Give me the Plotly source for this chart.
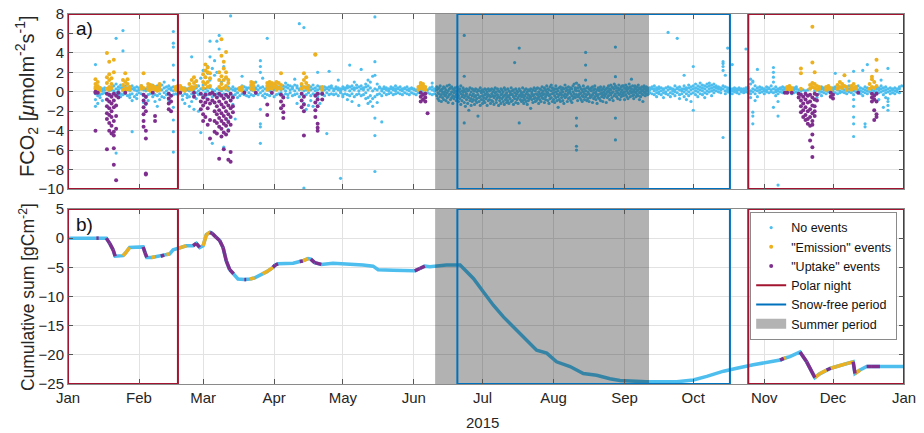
import numpy as np
import pandas as pd
import plotly.graph_objects as go

# ---------------- data (day of year 2015, value) ----------------
# Panel a: CO2 flux, grouped by day: (day, [values])  -- "no events"
no_event = [
 (12,[0.3,-0.2,-0.8,-1.5,2.8]),(13,[0.1,-0.4,0.5,-1.2]),(14,[0.2,-0.3,-0.6,0.4]),(15,[0.1,-0.2,0.3,-0.9]),
 (16,[0.2,-0.1,0.4]),(17,[-0.2,0.3]),(18,[0.1,-0.4]),(19,[0.2,-0.3,0.5]),(20,[0.1,-0.2,0.6]),
 (21,[0.3,-0.1,5.5,-6.3,0.8]),(22,[0.2,-0.3,0.5]),(23,[0.4,-0.2,0.7,-0.5]),(24,[0.1,0.5,-0.3,6.3,4.2]),
 (25,[0.3,-0.2,0.6]),(26,[0.2,-0.4,0.4]),(27,[0.1,-0.3,0.5,-0.6]),(28,[0.3,-0.2,0.6,-4.1,-0.9]),
 (29,[0.2,-0.5,0.4]),(30,[0.1,-0.3,0.5,-0.7]),(31,[0.4,-0.1,0.2]),(32,[0.3,-0.2,0.6]),(33,[0.2,-0.4,-1.1]),
 (34,[0.1,-0.6,-1.3,0.3]),(35,[0.2,-0.3,-0.9,0.5]),(36,[0.3,-0.2,0.1]),(37,[0.4,-0.1,-0.5,0.7]),
 (38,[0.2,-0.3,0.5,-1.0]),(39,[0.1,-0.4,0.6,-1.5]),(40,[0.3,-0.2,-0.8,0.4]),(41,[0.2,-0.5,0.7]),
 (42,[0.4,-0.1,-0.6,1.0]),(43,[0.1,-0.3,0.5]),(44,[0.3,-0.2,0.6,-0.9]),(45,[0.2,-0.4,0.4]),
 (46,[0.5,0.1,-0.3,6.2,5.0,4.6,2.75,-2.9,-4.1,-6.2,1.2,-1.6]),(47,[0.2,-0.2,0.4]),(48,[0.1,-0.3,0.3]),
 (49,[0.3,-0.1,0.5]),(50,[0.2,-0.4,-0.8]),(51,[0.1,-0.2,0.4,-1.2]),(52,[0.3,-0.3,0.2,-0.6]),
 (53,[0.1,-0.5,0.4,-1.5]),(54,[0.3,-0.2,3.6,-1.0]),(55,[0.2,-0.4,0.5,-1.8]),(56,[0.4,-0.1,-0.7,1.1]),
 (57,[0.1,-0.3,0.6,-2.0]),(58,[0.3,-0.2,1.4,-4.2]),(59,[0.2,-0.4,0.7,2.2]),(60,[0.3,-0.1,1.5,-0.6]),
 (61,[0.1,-0.3,1.9,2.6]),(62,[0.4,-0.2,3.6,1.2,5.2]),(63,[0.2,-0.5,2.4,-5.3]),(64,[0.1,-0.3,1.7,3.2]),
 (65,[0.3,-0.2,5.2,2.0]),(66,[0.2,-0.4,5.8,4.4]),(67,[0.1,-0.3,1.0,-1.3]),(68,[0.3,-0.2,2.6,-5.7]),
 (69,[0.2,-0.4,1.4]),(70,[0.1,-0.6,0.5,-3.0,-3.9]),(71,[0.3,-0.2,-0.9,7.8]),(72,[0.2,-0.4,0.5,-1.3]),
 (73,[0.1,-0.3,0.3,-2.8]),(74,[0.3,-0.1,-0.6]),(75,[0.2,-0.4,0.4]),(76,[0.3,-0.2,0.6,1.6]),
 (77,[0.1,-0.3,0.5]),(78,[0.2,-0.4,0.4]),(79,[0.4,-0.1,-0.5]),(80,[0.2,-0.3,0.6]),(81,[0.1,-0.4,0.5]),
 (82,[0.3,-0.2,0.4,1.0]),(83,[0.2,-0.3,0.6]),(84,[0.4,-0.1,3.2,2.6,2.0,-1.8,-3.3,-3.6,-5.3]),
 (85,[0.1,-0.4,0.5,1.4]),(86,[0.3,-0.2,-0.6]),(87,[0.2,-0.3,0.4,5.5]),(88,[0.1,-0.4,0.5]),
 (89,[0.3,-0.2,0.6]),(90,[0.2,-0.5,0.4]),(91,[0.4,-0.3,0.6]),(92,[0.3,-0.2,0.5]),(93,[0.2,-0.1,0.4]),
 (94,[0.3,-0.4,0.6]),(95,[0.1,-0.2,0.5,0.9]),(96,[0.4,-0.3,0.7,-0.6]),(97,[0.2,-0.1,0.6]),
 (98,[0.3,-0.4,0.5]),(99,[0.1,-0.3,0.7,1.3]),(100,[0.4,-0.2,0.6,-1.2]),(101,[0.2,-0.5,0.3,7.0]),
 (102,[0.3,-0.2,0.6]),(103,[0.1,-0.4,6.6,-9.9,-1.2]),(104,[0.2,-0.3,0.5,-1.8]),(105,[0.4,-0.1,0.6,-1.4]),
 (106,[0.2,-0.4,0.5,-0.9]),(107,[0.3,-0.2,0.7,-1.5]),(108,[0.1,-0.3,0.4]),(109,[0.2,-0.5,0.6,2.0]),
 (110,[0.3,-0.2,0.5,-1.2]),(111,[0.1,-0.3,0.4]),(112,[0.2,-0.4,0.5]),(113,[0.3,-0.1,0.4,-4.3]),
 (114,[0.2,-0.3,0.5,2.1]),(115,[0.4,-0.2,0.6]),(116,[0.1,-0.3,0.3]),(117,[0.3,-0.2,0.5]),
 (118,[0.2,-0.4,0.4,1.2]),(119,[0.1,-0.1,0.3,-8.9]),(120,[0.3,-0.3,0.5,-0.5]),(121,[0.2,-0.2,0.4]),
 (122,[0.4,-0.3,0.6,-0.8]),(123,[0.1,-0.4,0.5,2.75]),(124,[0.3,-0.2,0.6,-1.0]),(125,[0.2,-0.5,0.4,1.0]),
 (126,[0.4,-0.3,0.7]),(127,[0.1,-0.2,0.5,-1.4]),(128,[0.3,-0.4,0.6,2.3]),(129,[0.2,-0.3,0.4]),
 (130,[0.5,-0.1,0.8,-0.7]),(131,[0.2,-0.6,0.6,1.2,-1.2]),(132,[0.4,-0.4,1.0,-1.0]),(133,[0.1,-0.7,1.6,-1.5]),
 (134,[0.3,-0.5,3.1,1.7,7.7,-2.7,-4.5,-8.2]),(135,[0.2,-0.3,0.8,-1.1]),(136,[0.4,-0.2,0.5]),
 (137,[0.1,-0.4,0.3,-3.1]),(138,[0.3,-0.1,0.5]),(139,[0.2,-0.3,0.4]),(140,[0.1,-0.2,0.3]),
 (141,[0.3,-0.1,0.5]),(142,[0.2,-0.3,0.4]),(143,[0.1,-0.2,0.3,0.6]),(144,[0.3,-0.1,0.4]),
 (145,[0.2,-0.2,0.5]),(146,[0.1,-0.3,0.3]),(147,[0.3,-0.1,0.4]),(148,[0.2,-0.2,0.5]),(149,[0.1,-0.3,0.3]),
 (150,[0.3,-0.1,0.4]),(151,[0.2,-0.2,0.3]),(152,[0.1,-0.3,0.2]),(153,[0.2,-0.1]),(154,[0.2,-0.1]),
 (155,[0.2,-0.1]),(156,[0.2,-0.1]),(157,[0.2,-0.1]),(158,[0.3,-0.2,0.4]),(159,[0.2,-0.3,0.5,0.9]),
 (160,[0.1,-0.2,0.3]),
 (161.0,[0.2,-0.4,0.5]),(161.5,[-0.1,-0.7,0.3]),(162.0,[0.4,-0.2,-0.9]),(162.5,[0.1,-0.5,0.6]),
 (163.0,[-0.3,0.2,-1.0]),(163.5,[0.3,-0.6,0.0]),(164.0,[0.5,-0.2,-0.8]),(164.5,[0.0,-0.4,0.4]),
 (165.0,[0.2,-0.9,-0.3]),(165.5,[0.6,-0.1,-0.6]),(166.0,[0.1,-0.5,-1.1]),(166.5,[0.3,-0.3,0.7]),
 (167.0,[-0.2,0.4,-0.8]),(167.5,[0.0,-0.6,0.5]),(168.0,[0.3,-0.4,-1.2]),(168.5,[-0.1,0.2,-0.7]),
 (169.0,[0.4,-0.5,0.0]),(169.5,[0.1,-0.9,-0.3]),(170.0,[0.5,-0.2,-0.6]),(170.5,[-0.4,0.2,-1.0]),
 (171.0,[0.3,-0.7,0.0]),(171.5,[-0.2,0.6,-1.3]),(172.0,[0.1,-0.5,-0.9]),(172.5,[0.4,-0.3,0.0]),
 (173.0,[-0.6,0.2,-1.1,5.8,1.6,-3.2]),(173.5,[0.0,-0.4,-1.5]),(174.0,[0.3,-0.8,-0.2]),(174.5,[-0.5,0.1,-1.2]),
 (175.0,[0.2,-0.6,-1.9]),(175.5,[-0.3,0.4,-0.9]),(176.0,[0.0,-0.7,-1.4]),(176.5,[0.3,-0.4,-1.0]),
 (177.0,[-0.2,-0.8,0.2]),(177.5,[0.1,-0.5,-1.3]),(178.0,[-0.4,0.3,-0.9]),(178.5,[0.0,-0.7,-1.1]),
 (179.0,[-0.3,0.2,-2.5]),(179.5,[0.1,-0.6,-1.0]),(180.0,[-0.5,0.4,-1.4]),(180.5,[-0.1,-0.8,0.1]),
 (181.0,[0.2,-0.4,-1.2]),(181.5,[-0.6,0.0,-0.9]),(182.0,[0.3,-0.3,-1.1]),(182.5,[-0.2,-0.7,0.2]),
 (183.0,[0.0,-0.5,-1.4]),(183.5,[-0.3,0.3,-0.9]),(184.0,[0.1,-0.8,-0.4]),(184.5,[-0.5,0.2,-1.2]),
 (185.0,[0.3,-0.2,-0.9]),(185.5,[-0.4,-1.0,0.0]),(186.0,[0.2,-0.6,-1.3]),(186.5,[-0.1,-0.4,0.4]),
 (187.0,[0.0,-0.8,-1.1]),(187.5,[-0.3,0.3,-0.6]),(188.0,[0.1,-0.5,-1.4]),(188.5,[-0.6,0.0,-0.9]),
 (189.0,[0.3,-0.3,-1.2]),(189.5,[-0.2,-0.7,0.2]),(190.0,[0.0,-0.5,-1.0]),(190.5,[-0.4,0.4,-1.3]),
 (191.0,[0.2,-0.8,-0.3]),(191.5,[-0.1,-0.6,-1.1]),(192.0,[0.3,-0.4,-0.9]),(192.5,[-0.5,0.1,-1.2]),
 (193.0,[0.0,-0.7,-0.3]),(193.5,[0.4,-0.2,-1.0]),(194.0,[-0.3,-0.9,0.1]),(194.5,[0.2,-0.5,-1.3]),
 (195.0,[-0.1,-0.7,3.0]),(195.5,[0.3,-0.4,-1.1]),(196.0,[-0.2,0.1,-0.8]),(196.5,[0.0,-0.6,-1.2]),
 (197.0,[-0.4,0.3,4.5,-3.2]),(197.5,[0.1,-0.8,-0.3]),(198.0,[-0.1,-0.5,-1.0]),(198.5,[0.4,-0.3,-0.9]),
 (199.0,[-0.6,0.0,-1.2]),(199.5,[0.2,-0.4,-0.8]),(200.0,[-0.2,-1.0,0.3]),(200.5,[0.0,-0.6,-1.3]),
 (201.0,[-0.3,0.2,-0.9]),(201.5,[0.1,-0.7,-0.4]),(202.0,[-0.5,0.3,-1.7]),(202.5,[0.0,-0.8,-0.2]),
 (203.0,[0.2,-0.4,-1.1]),(203.5,[-0.3,0.4,-0.7]),(204.0,[0.1,-0.6,-1.0]),(204.5,[-0.2,-0.9,0.3]),
 (205.0,[0.4,-0.3,-0.7]),(205.5,[0.0,-0.5,-1.2]),(206.0,[0.3,-0.2,-0.8]),(206.5,[-0.4,0.2,-1.0]),
 (207.0,[0.5,-0.1,-0.6]),(207.5,[0.1,-0.7,-0.3]),(208.0,[-0.2,0.4,-1.1]),(208.5,[0.2,-0.5,-0.8]),
 (209.0,[0.6,-0.3,0.0]),(209.5,[-0.1,-0.9,0.3]),(210.0,[0.2,-0.4,-1.2]),(210.5,[-0.3,0.5,-0.7]),
 (211.0,[0.1,-0.6,0.7]),(211.5,[0.4,-0.2,-1.0]),(212.0,[-0.1,-0.8,0.2]),(212.5,[0.3,-0.4,-1.1]),
 (213.0,[0.6,0.0,-0.6]),(213.5,[-0.2,0.3,-0.9]),(214.0,[0.1,-0.5,-1.6]),(214.5,[0.4,-0.3,-0.8]),
 (215.0,[-0.1,0.5,-1.0]),(215.5,[0.2,-0.6,-0.3]),(216.0,[0.0,-0.9,0.4]),(216.5,[0.3,-0.4,-1.2]),
 (217.0,[0.7,-0.2,-0.6]),(217.5,[0.1,-0.5,0.4]),(218.0,[-0.3,0.2,-1.0]),(218.5,[0.5,-0.1,-0.7]),
 (219.0,[0.2,-0.6,0.0]),(219.5,[-0.2,0.4,-0.9]),(220.0,[0.3,-0.4,-1.1]),(220.5,[0.0,-0.7,0.6]),
 (221.0,[0.8,-0.2,-0.5]),(221.5,[0.2,-0.6,0.4]),(222.0,[-0.3,0.1,-2.7,-3.5,-5.6,-6.0,0.9]),(222.5,[0.4,-0.5,-0.9]),
 (223.0,[0.1,-0.3,0.7]),(223.5,[0.5,-0.2,-0.6]),(224.0,[-0.1,-0.8,0.3]),(224.5,[0.2,-0.4,-1.0]),
 (225.0,[0.6,0.0,-0.5]),(225.5,[-0.2,0.3,-0.8]),(226.0,[0.1,-0.5,4.05,2.75,1.2]),(226.5,[0.4,-0.3,-0.9]),
 (227.0,[0.0,-0.7,0.5]),(227.5,[0.3,-0.2,-1.0]),(228.0,[-0.4,0.2,-0.6]),(228.5,[0.1,-0.5,0.4]),
 (229.0,[0.5,-0.3,-1.1]),(229.5,[-0.1,0.2,-0.7]),(230.0,[0.3,-0.5,0.6]),(230.5,[0.0,-0.8,-0.2]),
 (231.0,[0.2,-0.4,-1.2]),(231.5,[-0.3,0.4,-0.6]),(232.0,[0.1,-0.7,0.3]),(232.5,[0.5,-0.2,-0.9]),
 (233.0,[-0.1,-0.5,0.2]),(233.5,[0.3,-0.3,-1.0]),(234.0,[0.0,0.5,-0.6]),(234.5,[0.2,-0.4,-0.2]),
 (235.0,[-0.2,0.3,-1.1]),(235.5,[0.4,-0.6,0.0]),(236.0,[0.6,0.1,-0.4]),(236.5,[-0.1,0.3,-0.8]),
 (237.0,[0.2,-0.3,0.7]),(237.5,[0.5,-0.1,-0.6]),(238.0,[0.0,0.4,-0.9]),(238.5,[0.3,-0.4,0.8]),
 (239.0,[0.6,-0.2,4.6,1.55,-2.7,-4.95]),(239.5,[0.1,-0.5,0.4]),(240.0,[0.4,-0.1,-0.7]),(240.5,[0.7,0.2,-0.3]),
 (241.0,[-0.2,0.3,-0.8]),(241.5,[0.5,0.0,-0.5]),(242.0,[0.2,-0.3,0.6]),(242.5,[0.6,-0.1,-0.4]),
 (243.0,[0.0,0.4,-0.8]),(243.5,[0.3,-0.3,0.7]),(244.0,[0.5,0.1,-0.5]),(244.5,[-0.1,0.3,-0.7]),
 (245.0,[0.4,-0.2,0.8]),(245.5,[0.1,-0.5,0.5]),(246.0,[0.3,-0.1,1.3]),(246.5,[0.6,0.0,-0.4]),
 (247.0,[0.2,-0.3,-0.7]),(247.5,[0.4,0.0,0.6]),(248.0,[-0.1,0.3,-0.5]),(248.5,[0.5,0.1,-0.3]),
 (249.0,[0.2,-0.4,0.7]),(249.5,[0.4,-0.1,-0.8]),(250.0,[0.0,0.3,-0.5]),(250.5,[0.5,0.1,-0.2]),
 (251.0,[0.2,-0.3,-1.0]),(251.5,[0.4,0.0,0.6]),(252.0,[-0.1,0.3,-0.4]),(252.5,[0.5,0.1,-0.2]),
 (253.0,[0.2,-0.3,0.4]),(253.5,[0.0,0.3,-0.2]),
 (254,[0.2,-0.1,0.4]),(255,[0.3,-0.2,0.5]),(256,[0.1,-0.3,0.3,0.6]),(257,[0.2,-0.1,0.4,-0.5]),
 (258,[0.3,0.0,-0.2,0.5]),(259,[0.1,-0.3,0.4]),(260,[0.2,-0.1,0.3,-0.6]),(261,[0.4,0.0,-0.2]),
 (262,[0.2,-0.3,0.5,6.1]),(263,[0.3,-0.1,0.4,-0.5]),(264,[0.1,-0.2,0.3]),(265,[0.2,0.0,-0.4,0.6]),
 (266,[0.3,-0.1,0.4,5.5]),(267,[0.2,-0.3,0.5,-0.7]),(268,[0.1,-0.2,0.3]),(269,[0.3,0.0,0.6,1.7,-0.5]),
 (270,[0.2,-0.2,0.4,-0.8]),(271,[0.4,0.0,0.7,-0.4]),(272,[0.2,-0.2,0.5,-1.0]),(273,[0.3,-0.1,0.6,2.6,-1.9]),
 (274,[0.1,-0.3,0.4,0.8]),(275,[0.3,0.0,0.6,-0.5]),(276,[0.2,-0.2,0.5,0.9]),(277,[0.4,0.1,0.7,-0.3]),
 (278,[0.3,-0.1,0.6,-0.6]),(279,[0.5,0.1,0.8,-0.2]),(280,[0.3,0.0,0.6,0.9]),(281,[0.4,0.1,0.7,-0.4]),
 (282,[0.2,-0.1,0.5,0.8]),(283,[0.4,0.1,0.6]),(284,[0.3,0.0,0.5]),(285,[0.2,-0.1,0.4]),
 (286,[0.3,2.2,2.6,3.1,2.9,-4.7,0.6]),(287,[0.1,-0.2,0.5,1.7]),(288,[0.2,0.0,0.4,4.5]),(289,[0.3,-0.1,0.2]),
 (290,[0.1,-0.2,0.3,2.8]),(291,[0.2,0.0,0.4]),(292,[0.1,-0.1,0.3]),(293,[0.2,-0.2,0.4]),(294,[0.3,0.0,0.2]),
 (295,[0.1,-0.1,0.3]),(296,[0.2,0.0,4.4,0.4]),(297,[0.3,-0.1,0.5]),(298,[0.1,-0.2,0.8,1.3,-0.6]),
 (299,[0.3,0.0,1.0,-2.1,-2.5,-3.3,1.1]),(300,[0.2,-0.2,0.6,-0.9]),(301,[0.4,0.1,2.3,-0.5]),
 (302,[0.2,-0.1,0.5]),(303,[0.3,0.0,0.4]),(304,[0.1,-0.2,0.3]),(305,[0.2,0.0,0.5]),(306,[0.3,-0.1,0.4]),
 (307,[0.2,0.0,0.6]),(308,[0.3,-0.1,2.5,1.5,2.0,1.0,-1.6]),(309,[0.2,0.0,0.5,-0.4]),
 (310,[0.1,-0.2,0.3,-2.5,-9.6,-1.0]),(311,[0.3,0.0,0.4]),(312,[0.2,-0.1,0.5]),(313,[0.3,0.0,0.4]),
 (314,[0.2,-0.1]),(315,[0.3,0.0]),(316,[0.1,-0.2]),(317,[0.2,-0.1,0.4]),(318,[0.3,0.0,0.5]),
 (319,[0.2,-0.1]),(320,[0.1,-0.2]),(321,[0.2]),(322,[0.1,-0.3]),(323,[0.2]),(324,[0.3]),(326,[0.1]),
 (327,[0.2,-0.3,-0.6]),(328,[0.1,-0.2]),(329,[0.3,0.0,0.5,-0.4]),(330,[0.2,-0.1,0.4]),(331,[0.1,-0.2,0.3]),
 (332,[0.2,0.0]),(333,[0.3,-0.1]),(334,[0.2,0.0,0.4]),(335,[0.3,-0.1,0.5,1.9]),(336,[0.2,-0.2,0.4]),
 (337,[0.1,-0.1]),(338,[0.3,0.0,0.5]),(339,[0.2,-0.1,1.7]),(340,[0.1,-0.2,0.3]),(341,[0.3,0.0,0.6,1.1]),
 (342,[0.2,-0.1,0.4]),(343,[0.1,-0.3,2.1,-0.8,-1.5,-2.6,-3.3,-4.6]),(344,[0.3,0.0,0.5]),
 (345,[0.2,-0.1,0.6]),(346,[0.1,-0.2,0.4]),(347,[0.3,0.0,2.2,-0.4]),(348,[0.2,-0.1,0.5,-3.6,-3.3]),
 (349,[0.1,-0.2,2.8,0.4]),(350,[0.3,0.0]),(351,[0.2,-0.1]),(352,[0.1,-0.2]),(353,[0.3,0.0,0.5]),
 (354,[0.2,-0.1,0.4,-0.8]),(355,[0.3,0.0,0.6,1.2]),(356,[0.1,-0.3,0.4,-1.6]),(357,[0.2,-0.1,0.5,-0.6]),
 (358,[0.3,0.0,2.4,-0.7,-1.0,-1.4,-1.9]),(359,[0.1,-0.2,0.4]),(360,[0.2,-0.1,0.3]),(361,[0.1,-0.2,0.4]),
 (362,[0.2,0.0,0.3]),(363,[0.3,-0.1,0.5]),(364,[0.6]),
]

emission = [
 (12,[0.3,0.8,1.3,0.5]),(13,[0.2,0.6,1.0]),(14,[0.1,0.4]),(17,[0.3,0.9,1.5,4.0]),
 (18,[0.5,1.2,1.8,3.1,0.2]),(19,[0.4,0.8,1.4]),(20,[3.3,2.0]),(24,[0.2,0.7,1.2]),(25,[0.4,1.0,1.9,0.1]),
 (26,[0.3,0.8,1.3]),(27,[0.2,0.5]),(32,[0.3,0.6]),(33,[1.9,0.4]),(35,[0.2,0.5,0.8]),(36,[0.1,0.4,0.7]),
 (37,[0.3,0.6]),(38,[0.2,0.5,0.3]),(39,[0.1,0.4]),(40,[0.2,0.6,0.8]),(47,[0.2,0.5]),(48,[0.1,0.4,0.6]),
 (49,[0.3,0.6]),(50,[0.2,0.4]),(51,[0.1,0.3]),(53,[0.3,0.8]),(54,[0.5,1.2,0.2]),(55,[0.4,0.9,1.5]),
 (56,[0.6,1.1]),(59,[0.4,1.0,1.8]),(60,[0.8,1.5,2.2,2.8]),(61,[1.0,2.0,2.5,0.5]),(62,[0.6,1.4,1.9]),
 (66,[0.5,1.2,2.0]),(67,[0.8,1.6,3.7,5.4,0.3]),(68,[0.4,1.2,2.4,3.1]),(69,[0.6,1.5,4.1,2.0]),
 (70,[0.3,0.9,1.2]),(75,[0.2,0.4]),(76,[0.1,0.5]),(80,[0.3,0.7,1.0]),(81,[0.2,0.6,0.9]),
 (87,[0.2,0.6,0.9]),(88,[0.4,0.8,1.0]),(89,[0.3,0.7,0.9]),(90,[0.5,0.8]),(91,[0.2,0.6,1.0]),
 (92,[0.4,0.9]),(93,[0.3,1.9,0.7]),(102,[0.3,0.8]),(103,[0.5,1.2,1.9]),(104,[0.4,0.9,1.5]),
 (105,[0.2,0.6]),(108,[3.85,3.8]),(111,[0.2,0.5]),(153,[0.2,0.5]),(154,[0.4,0.9,0.7]),(155,[0.3,0.6,0.8]),
 (156,[0.2,0.5]),(314,[0.2,0.5]),(315,[0.3,0.6]),(316,[0.1,0.4]),(320,[2.4,1.9,0.3]),(324,[0.3,0.7]),
 (325,[0.5,0.9,3.0,6.7]),(326,[0.4,0.8,2.0]),(327,[0.2,0.6]),(328,[0.3,0.5]),(331,[0.2,0.5]),
 (332,[0.3,0.6]),(333,[0.1,0.4]),(336,[0.3,0.7]),(337,[0.5,1.0]),(338,[0.4,0.8]),(339,[0.6,1.7]),
 (340,[0.2,0.5]),(342,[0.2,0.6]),(343,[0.4,0.8]),(344,[0.3,0.5]),(350,[0.3,0.8]),(351,[0.5,1.3,1.55]),
 (352,[0.4,1.0]),(353,[0.6,2.2,3.3]),
]

uptake = [
 (12,[0.0,-0.1,-4.0]),(13,[-0.1]),(17,[-0.2,-0.8,-1.5,-2.2,-2.8,-5.9]),(18,[-0.3,-1.0,-1.7,-2.4,-3.2,-4.0]),
 (19,[-0.5,-1.2,-2.0,-2.6,-3.5,-4.3]),(20,[-0.2,-0.9,-1.6,-3.0,-4.1,-4.5,-7.5,-5.8]),
 (21,[-0.4,-1.4,-2.5,-3.8,-9.1]),(22,[-0.1,-0.6]),(25,[-0.1]),(33,[-0.3,-0.9,-1.6,-2.3,-3.0,-3.6]),
 (34,[-0.5,-1.2,-2.0,-4.0,-4.8,-8.4,-8.5]),(37,[-0.1]),(38,[-2.5,-3.0]),(44,[-0.2,-0.7,-1.2,-1.8]),
 (45,[-0.4,-1.0,-2.0]),(49,[-0.1]),(55,[-0.1,-0.5]),(58,[-0.2,-1.0,-1.8]),(59,[-0.6,-1.4,-2.3,-3.0]),
 (60,[-0.3,-1.1,-2.6]),(61,[-0.8,-1.7,-3.4]),(62,[-0.2,-1.2,-2.9,-4.8]),(63,[-0.1,-0.9]),
 (64,[-0.3,-1.1,-2.0,-3.0,-4.1]),(65,[-0.6,-1.5,-2.3,-3.2,-4.3]),(66,[-0.2,-1.0,-1.9,-2.7,-3.6,-6.9]),
 (67,[-0.4,-1.3,-2.2,-3.0,-3.8,-4.6]),(68,[-0.7,-1.6,-2.5,-3.3,-4.2,-5.9]),(69,[-0.3,-1.1,-2.0,-2.8,-3.5,-4.4]),
 (70,[-0.5,-1.4,-2.3,-3.1,-4.0,-7.0]),(71,[-0.2,-0.9,-1.7,-2.6,-3.4,-6.2,-7.2]),(72,[-0.6,-1.5,-2.1]),
 (77,[-0.1]),(82,[-0.1]),(87,[-1.3,-2.4]),(89,[-0.1]),(93,[-0.3,-1.0,-1.7]),(94,[-0.6,-1.4,-2.1,-2.7]),
 (102,[-0.2,-0.9,-1.6]),(103,[-0.5,-1.3,-2.0,-4.5]),(108,[-0.4,-1.1,-1.9,-2.6]),
 (109,[-0.2,-0.8,-1.5,-3.3,-3.7,-4.0]),(111,[-0.2,-0.8]),(154,[-0.1,-0.5,-1.0]),(155,[-0.3,-0.8]),
 (156,[-0.2,-0.6,-1.0]),(157,[-2.2]),(313,[-0.1]),(314,[-0.1]),(316,[-0.1]),(319,[-0.2,-0.6]),
 (320,[-0.3,-0.9,-1.5,-2.1]),(321,[-0.5,-1.2,-1.9,-2.6]),(322,[-0.2,-0.8,-1.6,-2.4,-2.9]),
 (323,[-0.4,-1.1,-2.0,-2.8,-3.3]),(324,[-0.3,-1.0,-1.8,-2.6,-3.5,-5.0]),
 (325,[-0.6,-1.4,-2.2,-3.0,-3.4,-4.4,-5.7,-6.7]),(326,[-0.2,-0.8,-1.5,-2.0,-2.5]),(327,[-0.3,-0.9]),
 (333,[-0.1,-0.5]),(334,[-0.3,-0.7]),(345,[-0.1]),(351,[-0.2,-0.6,-1.0]),(352,[-0.4,-0.8,-1.9,-2.9]),
 (353,[-0.2,-1.0,-2.3,-2.6]),
]

# Panel b: cumulative sum (day, gC m-2) and the event type of the segment ending at each point
cum_days = [0.0,12.4,13.4,16.7,18.2,19.7,20.6,24.0,25.0,26.9,32.8,33.6,34.4,36.5,38.0,40.5,42.0,43.0,44.4,45.9,
            48.0,50.0,51.7,54.6,56.0,57.5,59.0,60.4,62.0,63.0,64.5,66.2,67.7,69.1,70.6,72.3,74.2,77.0,77.8,79.5,
            81.5,83.7,85.0,87.0,89.5,90.5,91.7,98.3,101.2,102.5,104.8,106.0,107.7,110.6,115.7,123.0,128.8,133.2,
            135.4,141.9,151.4,153.6,155.8,158.0,165.2,171.2,177.0,181.3,185.7,190.1,194.4,200.3,204.6,209.0,
            213.3,219.2,225.0,230.8,236.6,241.0,252.6,265.8,273.0,278.9,286.2,292.0,299.2,310.9,312.5,313.5,
            315.2,319.6,322.5,326.1,328.0,331.2,333.0,335.6,339.9,342.8,343.6,345.8,348.7,351.0,354.5,365.0]
cum_vals = [0.0,0.0,0.0,0.0,-0.9,-2.0,-3.1,-3.0,-2.6,-1.6,-1.5,-2.5,-3.3,-3.3,-3.2,-3.1,-2.9,-2.8,-2.7,-2.0,
            -1.8,-1.5,-1.3,-1.3,-0.9,-1.6,-1.3,0.6,1.0,0.8,0.2,-0.4,-1.6,-3.9,-5.4,-6.1,-7.0,-7.1,-7.1,-7.0,
            -6.8,-6.4,-6.1,-5.7,-5.0,-4.6,-4.4,-4.3,-4.0,-3.9,-3.5,-3.6,-4.2,-4.5,-4.3,-4.4,-4.6,-4.8,
            -5.4,-5.5,-5.6,-5.2,-4.8,-4.9,-4.6,-4.6,-6.9,-9.2,-11.5,-13.5,-15.2,-17.5,-19.2,-19.7,
            -21.2,-22.0,-23.2,-23.5,-24.1,-24.4,-24.6,-24.6,-24.3,-23.7,-22.8,-22.3,-21.7,-20.9,-20.6,-20.5,
            -20.3,-19.5,-21.2,-23.9,-23.3,-22.6,-22.3,-22.0,-21.5,-21.2,-23.2,-22.6,-22.0,-22.0,-22.0,-22.0]
cum_event = list("nnunuuunee" "nuunenunen" "neenuuneeu" "uuuuuunnun" "enneeuunnu"
                 "enuunnnnnn" "nuunnnnnnn" "nnnnnnnnnn" "nnnnnnnnue" "nnuueeueee" "uenuun")

# Periods
polar_night = [("2015-01-01", "2015-02-18"), ("2015-10-25", "2016-01-01")]
snow_free = [("2015-06-20", "2015-10-17")]
summer = [("2015-06-10 07:00", "2015-09-11 16:00")]
month_ticks = pd.date_range("2015-01-01", "2016-01-01", freq="MS")
ylim_a = [-10, 8]
ylim_b = [-25, 5]

# ---------------- helpers ----------------
BASE = pd.Timestamp("2015-01-01")


def to_date(days):
    return list(BASE + pd.to_timedelta(np.asarray(days, dtype=float), unit="D"))


def flatten(groups):
    d, v = [], []
    for day, vals in groups:
        for val in vals:
            d.append(day)
            v.append(val)
    return to_date(d), v


def rect(periods, y0, y1):
    xs, ys = [], []
    for a, b in periods:
        xs += [a, b, b, a, a, None]
        ys += [y0, y0, y1, y1, y0, None]
    return xs, ys


C_BLUE = "#4DBEEE"
C_ORANGE = "#EDB120"
C_PURPLE = "#7E2F8E"
C_RED = "#A2142F"
C_SNOW = "#0072BD"
FONT = "Arial, Liberation Sans, sans-serif"

fig = go.Figure()

# ---- panel a ----
x, y = flatten(no_event)
fig.add_trace(go.Scatter(x=x, y=y, mode="markers", name="No events", legendrank=1,
                         marker=dict(color=C_BLUE, size=3.2), xaxis="x", yaxis="y"))
x, y = flatten(emission)
fig.add_trace(go.Scatter(x=x, y=y, mode="markers", name='"Emission" events', legendrank=2,
                         marker=dict(color=C_ORANGE, size=4), xaxis="x", yaxis="y"))
x, y = flatten(uptake)
fig.add_trace(go.Scatter(x=x, y=y, mode="markers", name='"Uptake" events', legendrank=3,
                         marker=dict(color=C_PURPLE, size=4), xaxis="x", yaxis="y"))

# ---- panel b ----
cx = to_date(cum_days)
fig.add_trace(go.Scatter(x=cx, y=cum_vals, mode="lines", showlegend=False,
                         line=dict(color=C_BLUE, width=3.5), xaxis="x2", yaxis="y2"))
for code, col in (("e", C_ORANGE), ("u", C_PURPLE)):
    sx, sy = [], []
    for i in range(1, len(cum_days)):
        if cum_event[i] == code:
            sx += [cx[i - 1], cx[i], None]
            sy += [cum_vals[i - 1], cum_vals[i], None]
    fig.add_trace(go.Scatter(x=sx, y=sy, mode="lines", showlegend=False,
                             line=dict(color=col, width=3.5), xaxis="x2", yaxis="y2"))

# ---- period overlays and boxes ----
for xa, ya, lim, leg in (("x", "y", ylim_a, False), ("x2", "y2", ylim_b, True)):
    rx, ry = rect(summer, lim[0], lim[1])
    fig.add_trace(go.Scatter(x=rx, y=ry, mode="lines", fill="toself", fillcolor="rgba(0,0,0,0.30)",
                             line=dict(width=0, color="rgba(0,0,0,0)"), showlegend=False,
                             xaxis=xa, yaxis=ya, hoverinfo="skip"))
    rx, ry = rect(polar_night, lim[0], lim[1])
    fig.add_trace(go.Scatter(x=rx, y=ry, mode="lines", line=dict(color=C_RED, width=2),
                             name="Polar night", legendrank=4, showlegend=leg, cliponaxis=False,
                             xaxis=xa, yaxis=ya, hoverinfo="skip"))
    rx, ry = rect(snow_free, lim[0], lim[1])
    fig.add_trace(go.Scatter(x=rx, y=ry, mode="lines", line=dict(color=C_SNOW, width=2),
                             name="Snow-free period", legendrank=5, showlegend=leg, cliponaxis=False,
                             xaxis=xa, yaxis=ya, hoverinfo="skip"))

# legend swatch for the summer period
fig.add_trace(go.Scatter(x=[None], y=[None], mode="lines", name="Summer period", legendrank=6,
                         line=dict(width=16, color="#b3b3b3"), xaxis="x2", yaxis="y2"))

axis_common = dict(showgrid=True, gridcolor="#e2e2e2", gridwidth=1, ticks="inside", ticklen=5,
                   tickcolor="#555555", showline=True, linecolor="#8a8a8a", linewidth=1,
                   mirror="ticks", zeroline=False, automargin=False, ticklabeloverflow="allow",
                   tickfont=dict(size=15, color="#262626", family=FONT))
xcommon = dict(axis_common, type="date", range=["2015-01-01", "2016-01-01"],
               tickvals=list(month_ticks), tickformat="%b")

fig.update_layout(
    width=924, height=433,
    margin=dict(l=68, r=20, t=14, b=49, autoexpand=False),
    paper_bgcolor="white", plot_bgcolor="white",
    font=dict(family=FONT, size=14, color="#262626"),
    xaxis=dict(xcommon, domain=[0, 1], anchor="y", matches="x2", showticklabels=False),
    yaxis=dict(axis_common, domain=[0.527, 1], range=ylim_a, dtick=2, anchor="x"),
    xaxis2=dict(xcommon, domain=[0, 1], anchor="y2"),
    yaxis2=dict(axis_common, domain=[0, 0.473], range=ylim_b, dtick=5, anchor="x2"),
    showlegend=True,
    legend=dict(x=0.816, y=0.465, xanchor="left", yanchor="top", bgcolor="white",
                bordercolor="#8a8a8a", borderwidth=1, font=dict(size=12.5, color="#111111"),
                tracegroupgap=0, itemwidth=30),
    annotations=[
        dict(text="a)", x=0.007, y=0.962, xref="paper", yref="paper", xanchor="left", yanchor="middle",
             showarrow=False, font=dict(size=19, color="#111111")),
        dict(text="b)", x=0.007, y=0.432, xref="paper", yref="paper", xanchor="left", yanchor="middle",
             showarrow=False, font=dict(size=19, color="#111111")),
        dict(text="FCO<sub>2</sub> [<i>μ</i>molm<sup>-2</sup>s<sup>-1</sup>]", textangle=-90,
             x=-0.049, y=0.776, xref="paper", yref="paper", xanchor="center", yanchor="middle",
             showarrow=False, font=dict(size=20, color="#262626")),
        dict(text="Cumulative sum [gCm<sup>-2</sup>]", textangle=-90,
             x=-0.049, y=0.235, xref="paper", yref="paper", xanchor="center", yanchor="middle",
             showarrow=False, font=dict(size=17.5, color="#262626")),
        dict(text="2015", x="2015-07-01", y=-0.105, xref="x2", yref="paper", xanchor="center",
             yanchor="middle", showarrow=False, font=dict(size=15, color="#262626")),
    ],
)

# remove the default 8 px page margin so the figure fills the 924x433 window exactly
fig.write_html("out.html", config={"displayModeBar": False},
               post_script="document.body.style.margin='0px';")
